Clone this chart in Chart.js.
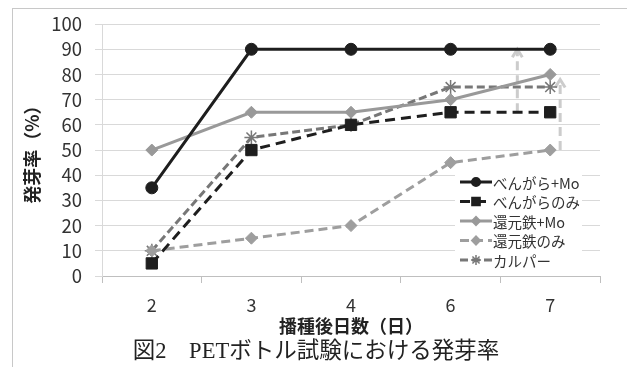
<!DOCTYPE html>
<html>
<head>
<meta charset="utf-8">
<script src="https://cdn.jsdelivr.net/npm/chart.js@4/dist/chart.umd.min.js"></script>
<style>
  body { margin: 0; background: #fff; }
  .wrap { position: relative; width: 627px; height: 367px; overflow: hidden; }
  .frame { position: absolute; left: 12px; top: 8px; width: 700px; height: 400px;
           border-left: 1px solid #c8c8c8; border-top: 1px solid #c8c8c8; }
  canvas { position: absolute; left: 0; top: 0; }
</style>
</head>
<body>
<div class="wrap">
  <div class="frame"></div>
  <canvas id="myCanvas" width="627" height="367"></canvas>
</div>
<script>
const days = ["2", "3", "4", "6", "7"];
const bengaraMo = [35, 90, 90, 90, 90];
const bengaraOnly = [5, 50, 60, 65, 65];
const ironMo = [50, 65, 65, 70, 80];
const ironOnly = [10, 15, 20, 45, 50];
const karupa = [10, 55, 60, 75, 75];

// dashed arrows (x as category index, from value -> to value)
const arrowAt = [3.67, 4.1];
const arrowFrom = [65, 50];
const arrowTo = [90, 78];

const yTitle = "発芽率（%）";
const xTitle = "播種後日数（日）";
const caption = "図2　PETボトル試験における発芽率";

const jp = '"Noto Sans CJK JP", "Noto Sans", sans-serif';

// arrows behind the lines
const arrowPlugin = {
  id: "arrows",
  beforeDatasetsDraw(chart) {
    const ctx = chart.ctx;
    const x = chart.scales.x;
    const y = chart.scales.y;
    ctx.save();
    ctx.strokeStyle = "#cccccc";
    ctx.lineWidth = 3;
    for (let i = 0; i < arrowAt.length; i++) {
      const px = x.getPixelForValue(arrowAt[i]);
      const y0 = y.getPixelForValue(arrowFrom[i]);
      const y1 = y.getPixelForValue(arrowTo[i]);
      ctx.setLineDash([9, 5]);
      ctx.beginPath();
      ctx.moveTo(px, y0);
      ctx.lineTo(px, y1 + 2);
      ctx.stroke();
      ctx.setLineDash([]);
      ctx.beginPath();
      ctx.moveTo(px - 5, y1 + 8);
      ctx.lineTo(px, y1);
      ctx.lineTo(px + 5, y1 + 8);
      ctx.stroke();
    }
    ctx.restore();
  }
};

// legend box drawn inside the plot area, plus the caption
const legendPlugin = {
  id: "boxLegend",
  afterDraw(chart) {
    const ctx = chart.ctx;
    const left = 455, top = 172, w = 127, h = 97, rowH = 19.5;
    ctx.save();
    ctx.fillStyle = "#fff";
    ctx.fillRect(left, top, w, h);
    chart.data.datasets.forEach((ds, i) => {
      const cy = top + 10 + i * rowH;
      ctx.strokeStyle = ds.borderColor;
      ctx.lineWidth = 3;
      ctx.setLineDash(ds.borderDash || []);
      ctx.beginPath();
      ctx.moveTo(left + 5, cy);
      ctx.lineTo(left + 37, cy);
      ctx.stroke();
      ctx.setLineDash([]);
      ctx.fillStyle = ds.pointBackgroundColor;
      ctx.strokeStyle = ds.pointBorderColor;
      ctx.lineWidth = 1.5;
      Chart.helpers.drawPoint(ctx, {
        pointStyle: ds.pointStyle,
        radius: ds.pointRadius * 0.72,
        rotation: 0,
        borderWidth: 1.5
      }, left + 21, cy);
      ctx.fillStyle = "#333";
      ctx.font = "14.5px " + jp;
      ctx.textBaseline = "middle";
      ctx.textAlign = "left";
      ctx.fillText(ds.label, left + 38, cy + 1);
    });
    ctx.fillStyle = "#222";
    ctx.font = '22.5px "Liberation Serif", "Noto Sans CJK JP", serif';
    ctx.textAlign = "center";
    ctx.textBaseline = "middle";
    ctx.fillText(caption, 316, 352);
    ctx.restore();
  }
};

function line(label, data, color, dash, style, radius) {
  return {
    label: label,
    data: data,
    borderColor: color,
    backgroundColor: color,
    pointBackgroundColor: color,
    pointBorderColor: color,
    borderWidth: 3,
    borderDash: dash,
    pointStyle: style,
    pointRadius: radius,
    pointBorderWidth: style === "star" ? 1.5 : 1,
    tension: 0,
    fill: false
  };
}

new Chart(document.getElementById("myCanvas"), {
  type: "line",
  data: {
    labels: days,
    datasets: [
      line("べんがら+Mo", bengaraMo, "#1e1e1e", [], "circle", 6),
      line("べんがらのみ", bengaraOnly, "#1e1e1e", [10, 6], "rect", 8),
      line("還元鉄+Mo", ironMo, "#999999", [], "rectRot", 6),
      line("還元鉄のみ", ironOnly, "#9e9e9e", [9, 5], "rectRot", 6),
      line("カルパー", karupa, "#777777", [8, 4], "star", 7)
    ]
  },
  options: {
    responsive: false,
    animation: false,
    layout: { autoPadding: false, padding: { left: 0, top: 22, right: 27, bottom: 0 } },
    plugins: {
      legend: { display: false },
      tooltip: { enabled: false }
    },
    scales: {
      x: {
        offset: true,
        afterFit: (s) => { s.height = 91; },
        grid: { offset: true, drawOnChartArea: false, tickLength: 7, color: "#bfbfbf" },
        border: { color: "#bfbfbf" },
        ticks: { color: "#333", padding: 11, font: { family: jp, size: 18 } },
        title: {
          display: true, text: xTitle, color: "#222",
          font: { family: jp, size: 18, weight: "bold" },
          padding: { top: 0, bottom: 30 }
        }
      },
      y: {
        min: 0,
        max: 100,
        afterFit: (s) => { s.width = 102; },
        grid: { color: "#d9d9d9", tickLength: 7 },
        border: { color: "#d9d9d9" },
        ticks: { stepSize: 10, autoSkip: false, color: "#333", padding: 13, font: { family: jp, size: 18.5 } },
        title: {
          display: true, text: yTitle, color: "#222",
          font: { family: jp, size: 18, weight: "bold" },
          padding: { top: 21, bottom: 0 }
        }
      }
    }
  },
  plugins: [arrowPlugin, legendPlugin]
});
</script>
</body>
</html>
